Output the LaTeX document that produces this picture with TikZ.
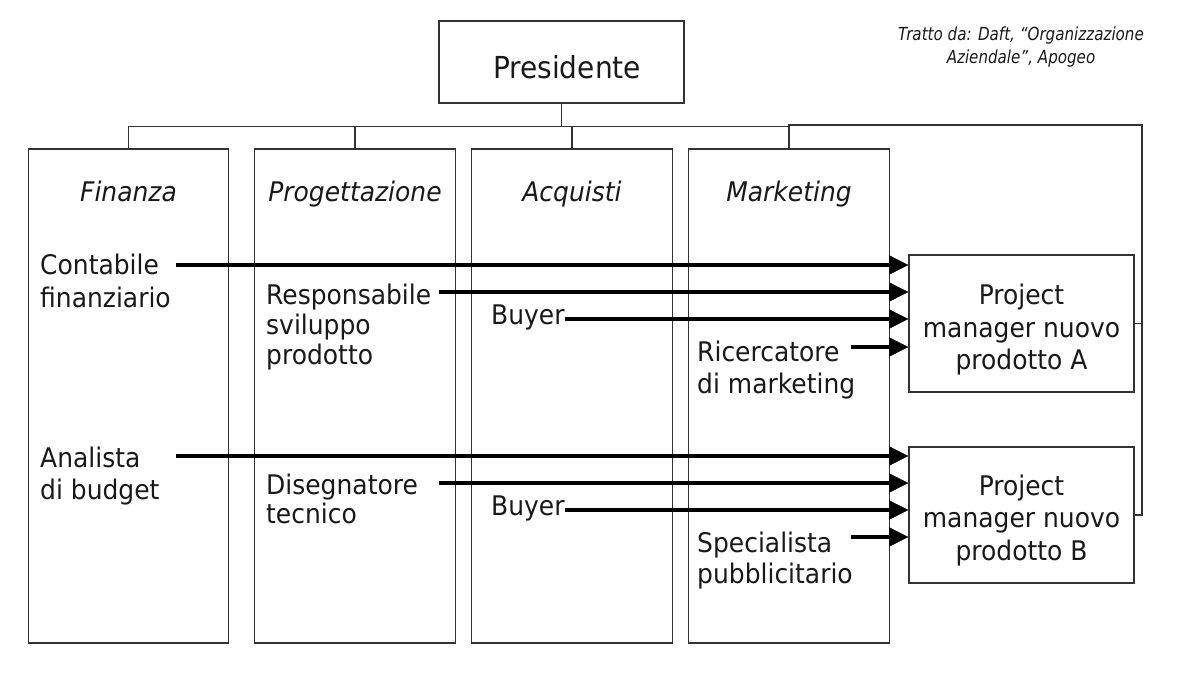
\documentclass[tikz,border=0pt]{standalone}
\usepackage{fontspec}
\setmainfont{DejaVu Sans}[FakeStretch=0.925]
\newfontfamily\capfont{DejaVu Sans}[FakeStretch=0.84]
\usetikzlibrary{arrows.meta}
\begin{document}
\begin{tikzpicture}[x=1pt,y=-1pt,
  box/.style={draw=black!80, line width=1.2pt, rectangle, inner sep=0pt, outer sep=0pt},
  col/.style={box, minimum width=200.5pt, minimum height=494pt},
  txt/.style={inner sep=0pt, anchor=base west, font=\fontsize{27}{32}\selectfont, text=black!90},
  hdr/.style={inner sep=0pt, anchor=base, font=\fontsize{27}{32}\selectfont\itshape, text=black!90},
  pmt/.style={inner sep=0pt, anchor=base, font=\fontsize{27}{32}\selectfont, text=black!90},
  captxt/.style={inner sep=0pt, anchor=base, font=\capfont\fontsize{18}{23}\selectfont\itshape, text=black!90},
  link/.style={draw=black!80, line width=1.2pt},
  arr/.style={draw=black, line width=4pt, -{Triangle[length=19pt,width=19pt,line width=0.5pt]}, shorten >=0.6pt}
]
\fill[white] (0,0) rectangle (1181,675);
\useasboundingbox (0,0) rectangle (1181,675);

% caption
\node[captxt] (cap1) at (1021,40) {Tratto da: Daft, “Organizzazione};
\node[captxt] (cap2) at (1021,63) {Aziendale”, Apogeo};

% president
\node[box, minimum width=245pt, minimum height=82pt] (pres) at (561.5,62) {};
\node[inner sep=0pt, anchor=base, font=\fontsize{30.3}{36}\selectfont, text=black!90] (prest) at (567,78) {Presidente};

% columns
\node[col] (fin)  at (128.5,396) {};
\node[col] (prog) at (355,396) {};
\node[col] (acq)  at (572,396) {};
\node[col] (mkt)  at (789,396) {};

\node[hdr] (finh)  at (128.5,201) {Finanza};
\node[hdr] (progh) at (355,201) {Progettazione};
\node[hdr] (acqh)  at (572,201) {Acquisti};
\node[hdr] (mkth)  at (789,201) {Marketing};

% project manager boxes
\node[box, minimum width=225pt, minimum height=137pt] (pmA) at (1021.5,323.5) {};
\node[box, minimum width=225pt, minimum height=136pt] (pmB) at (1021.5,515) {};
\node[pmt] (pmA1) at (1021.5,304) {Project};
\node[pmt] (pmA2) at (1021.5,337) {manager nuovo};
\node[pmt] (pmA3) at (1021.5,369) {prodotto A};
\node[pmt] (pmB1) at (1021.5,495) {Project};
\node[pmt] (pmB2) at (1021.5,527) {manager nuovo};
\node[pmt] (pmB3) at (1021.5,560) {prodotto B};

% hierarchy connectors
\coordinate (bus) at (128.5,126.5);
\coordinate (rt) at (1142,125);
\draw[link] (fin.north) -- (fin.north |- bus) -| (mkt.north);
\draw[link] (pres.south) -- (pres.south |- bus);
\draw[link] (prog.north) -- (prog.north |- bus);
\draw[link] (acq.north) -- (acq.north |- bus);
\draw[link] (mkt.north) -- (mkt.north |- rt) -- (rt) |- (pmB.east);
\draw[link] (pmA.east) -- (pmA.east -| rt);

% staff texts
\node[txt] (c1) at (40,274) {Contabile};
\node[txt] (c2) at (40,307) {finanziario};
\node[txt] (an1) at (40,467) {Analista};
\node[txt] (an2) at (40,499) {di budget};
\node[txt] (r1) at (266,304) {Responsabile};
\node[txt] (r2) at (266,334) {sviluppo};
\node[txt] (r3) at (266,364) {prodotto};
\node[txt] (d1) at (266,494) {Disegnatore};
\node[txt] (d2) at (266,523) {tecnico};
\node[txt] (b1) at (491,324) {Buyer};
\node[txt] (b2) at (491,515) {Buyer};
\node[txt] (ri1) at (697,361) {Ricercatore};
\node[txt] (ri2) at (697,393) {di marketing};
\node[txt] (s1) at (697,552) {Specialista};
\node[txt] (s2) at (697,583) {pubblicitario};

% arrow start points
\coordinate (sA1) at (176,265);
\coordinate (sA2) at (439,292);
\coordinate (sA3) at (565,319);
\coordinate (sA4) at (851,347);
\coordinate (sB1) at (176,456);
\coordinate (sB2) at (439,483);
\coordinate (sB3) at (565,510);
\coordinate (sB4) at (851,537);

\draw[arr] (sA1) -- (pmA.west |- sA1);
\draw[arr] (sA2) -- (pmA.west |- sA2);
\draw[arr] (sA3) -- (pmA.west |- sA3);
\draw[arr] (sA4) -- (pmA.west |- sA4);
\draw[arr] (sB1) -- (pmB.west |- sB1);
\draw[arr] (sB2) -- (pmB.west |- sB2);
\draw[arr] (sB3) -- (pmB.west |- sB3);
\draw[arr] (sB4) -- (pmB.west |- sB4);
\end{tikzpicture}
\end{document}
